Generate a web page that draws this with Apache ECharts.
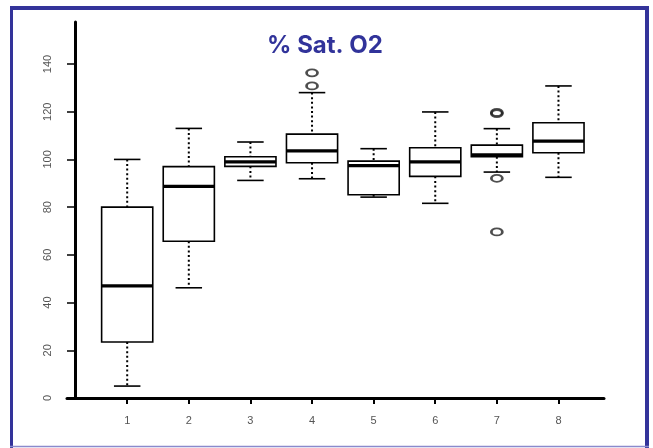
<!DOCTYPE html>
<html>
<head>
<meta charset="utf-8">
<script src="https://cdn.jsdelivr.net/npm/echarts@6/dist/echarts.min.js"></script>
<style>
html,body{margin:0;padding:0;background:#fff;}
#chart{width:653px;height:448px;}
</style>
</head>
<body>
<div id="chart"></div>
<script>
const categories = [1, 2, 3, 4, 5, 6, 7, 8];
const lowWhisker = [5, 46.2, 91.2, 91.9, 84.2, 81.6, 94.7, 92.5];
const q1 = [23.5, 65.7, 97.1, 98.6, 85.2, 92.9, 101.1, 102.8];
const median = [47, 88.7, 99, 103.6, 97.4, 99, 101.9, 107.7];
const q3 = [80, 97, 101.1, 110.6, 99.3, 104.9, 106, 115.4];
const highWhisker = [100, 113, 107.3, 128, 104.5, 119.9, 112.9, 130.8];
const outlierGroup = [4, 4, 7, 7, 7, 7];
const outlierValue = [130.8, 136.3, 119.2, 119.7, 92.1, 69.6];
const yTicks = [0, 20, 40, 60, 80, 100, 120, 140];
const titleText = '% Sat. O2';

const boxData = categories.map((c, i) => [c, lowWhisker[i], q1[i], median[i], q3[i], highWhisker[i]]);
const outlierData = outlierGroup.map((g, i) => [g, outlierValue[i]]);

const chart = echarts.init(document.getElementById('chart'), null, {renderer: 'canvas'});

function renderBox(params, api) {
  const x = api.value(0);
  const pLo = api.coord([x, api.value(1)]);
  const pQ1 = api.coord([x, api.value(2)]);
  const pMed = api.coord([x, api.value(3)]);
  const pQ3 = api.coord([x, api.value(4)]);
  const pHi = api.coord([x, api.value(5)]);
  const w = api.size([0.83, 0])[0];
  const cw = api.size([0.43, 0])[0];
  const cx = pMed[0];
  const dot = {stroke: '#000', lineWidth: 2, lineDash: [2, 2.6], fill: null};
  const solid = {stroke: '#000', lineWidth: 1.6, fill: null};
  return {
    type: 'group',
    children: [
      {type: 'line', shape: {x1: cx, y1: pHi[1], x2: cx, y2: pQ3[1]}, style: dot},
      {type: 'line', shape: {x1: cx, y1: pQ1[1], x2: cx, y2: pLo[1]}, style: dot},
      {type: 'line', shape: {x1: cx - cw / 2, y1: pHi[1], x2: cx + cw / 2, y2: pHi[1]}, style: solid},
      {type: 'line', shape: {x1: cx - cw / 2, y1: pLo[1], x2: cx + cw / 2, y2: pLo[1]}, style: solid},
      {type: 'rect', shape: {x: cx - w / 2, y: pQ3[1], width: w, height: pQ1[1] - pQ3[1]},
        style: {fill: '#fff', stroke: '#000', lineWidth: 1.6}},
      {type: 'line', shape: {x1: cx - w / 2, y1: pMed[1], x2: cx + w / 2, y2: pMed[1]},
        style: {stroke: '#000', lineWidth: 3.2}}
    ]
  };
}

const option = {
  backgroundColor: '#fff',
  animation: false,
  title: {
    text: titleText,
    left: 320,
    top: 29,
    textAlign: 'center',
    textStyle: {fontFamily: 'Inter', fontWeight: 'bold', fontSize: 24, color: '#31339a'}
  },
  grid: {left: 67, right: 49, top: 22, bottom: 50},
  xAxis: {
    type: 'value',
    min: 0.023,
    max: 8.739,
    axisLine: {show: true, lineStyle: {color: '#000', width: 3}},
    axisTick: {show: true, length: 6, lineStyle: {color: '#000', width: 2}, customValues: categories},
    axisLabel: {color: '#555', fontSize: 11, fontFamily: 'Liberation Sans', margin: 17, customValues: categories},
    splitLine: {show: false}
  },
  yAxis: {
    type: 'value',
    min: 0,
    max: 157.6,
    offset: -8,
    axisLine: {show: true, lineStyle: {color: '#000', width: 3}},
    axisTick: {show: true, length: 8, lineStyle: {color: '#000', width: 1.5}, customValues: yTicks},
    axisLabel: {color: '#555', fontSize: 11, fontFamily: 'Liberation Sans', rotate: 90, margin: 22, customValues: yTicks},
    splitLine: {show: false}
  },
  series: [
    {type: 'custom', renderItem: renderBox, data: boxData, encode: {x: 0, y: [1, 2, 3, 4, 5]}, z: 2},
    {type: 'scatter', data: outlierData, symbol: 'circle', symbolSize: [11, 7],
      itemStyle: {color: 'rgba(0,0,0,0)', borderColor: '#222', borderWidth: 2.2}, z: 3}
  ],
  graphic: [
    {type: 'rect', shape: {x: 10, y: 6, width: 639, height: 4}, style: {fill: '#33339a'}},
    {type: 'rect', shape: {x: 10, y: 6, width: 3, height: 442}, style: {fill: '#33339a'}},
    {type: 'rect', shape: {x: 645, y: 6, width: 4, height: 442}, style: {fill: '#33339a'}},
    {type: 'line', shape: {x1: 10, y1: 446.5, x2: 649, y2: 446.5}, style: {stroke: '#8a8acc', lineWidth: 1.5}}
  ]
};
chart.setOption(option);
</script>
</body>
</html>
